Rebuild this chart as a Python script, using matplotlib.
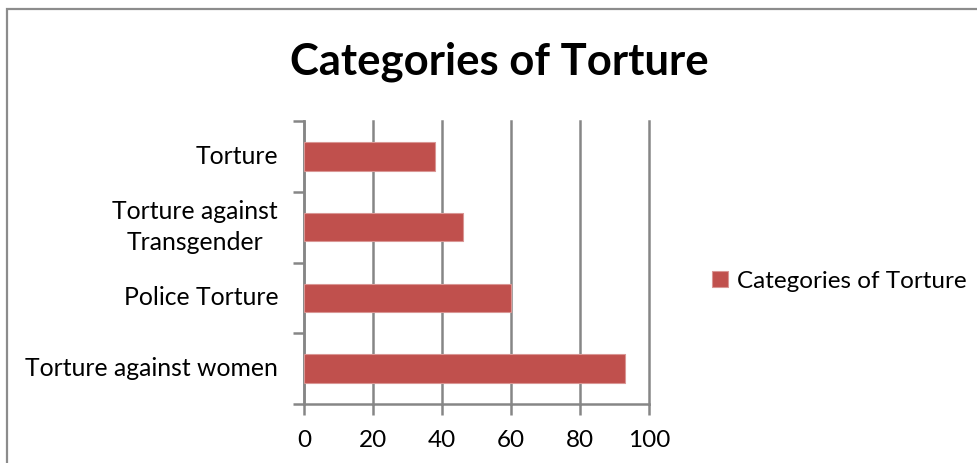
import matplotlib.pyplot as plt
from matplotlib.patches import Rectangle

# data
categories = ["Torture against women", "Police Torture", "Torture against\nTransgender", "Torture"]
values = [93, 60, 46, 38]
series_name = "Categories of Torture"

W, H = 978, 463
fig = plt.figure(figsize=(W / 100, H / 100), dpi=100)
plt.rcParams['font.family'] = ['Lato', 'DejaVu Sans']

# plot area in pixels
left, right, top, bottom = 304, 649, 121, 404
ax = fig.add_axes([left / W, 1 - bottom / H, (right - left) / W, (bottom - top) / H])

grid_col = '#868686'
ax.barh(range(len(categories)), values, height=0.4, color='#C0504D',
        edgecolor='#D99694', linewidth=0.8, label=series_name, zorder=3)

ax.set_xlim(0, 100)
ax.set_ylim(-0.5, len(categories) - 0.5)
ax.set_xticks(range(0, 101, 20))
ax.set_yticks([i - 0.5 for i in range(len(categories) + 1)])
ax.set_yticklabels([])
for i, c in enumerate(categories):
    ax.text(-0.075, i, c, transform=ax.get_yaxis_transform(), ha='right', va='center',
            multialignment='center', fontsize=17.8, linespacing=1.4)

ax.grid(axis='x', color=grid_col, linewidth=1.8, zorder=0)
for gl in ax.get_xgridlines():
    gl.set_clip_on(False)
for s in ['top', 'right']:
    ax.spines[s].set_visible(False)
for s in ['left', 'bottom']:
    ax.spines[s].set_color(grid_col)
    ax.spines[s].set_linewidth(1.8)
ax.tick_params(axis='both', color=grid_col, width=1.8, length=8, direction='out')
ax.tick_params(axis='x', labelsize=17.5, pad=11)

fig.text(499 / W, 1 - 62 / H, "Categories of Torture", ha='center', va='center',
         fontsize=31.4, fontweight='bold')

leg = fig.legend(loc='center left', bbox_to_anchor=(690 / W, 1 - 281 / H), frameon=False,
                 fontsize=17.5, handlelength=0.65, handleheight=0.65, handletextpad=0.4)

# chart frame (cropped at right and bottom)
fig.patches.append(Rectangle((7 / W, -0.1), 1.2, 1.1 - 9 / H, transform=fig.transFigure,
                             fill=False, edgecolor='#8C8C8C', linewidth=1.6))

fig.savefig('out.png', dpi=100)
